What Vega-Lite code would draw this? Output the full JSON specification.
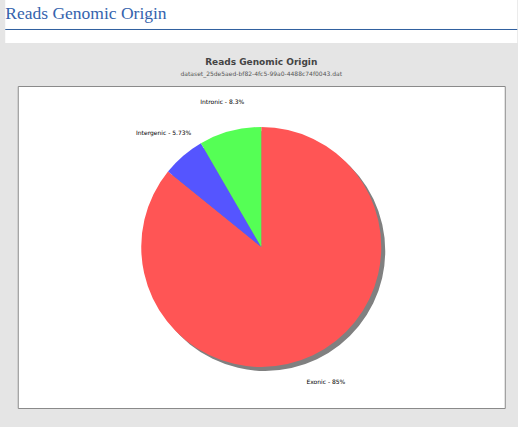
{
  "$schema": "https://vega.github.io/schema/vega-lite/v6.json",
  "background": "#e5e5e5",
  "padding": {"left": 4, "top": 0, "right": 0, "bottom": 18},
  "spacing": 14,
  "center": true,
  "config": {"view": {"stroke": null}},
  "datasets": {
    "origin": [
      {"origin": "Exonic", "pct": 85, "label": "Exonic - 85%"},
      {"origin": "Intergenic", "pct": 5.73, "label": "Intergenic - 5.73%"},
      {"origin": "Intronic", "pct": 8.3, "label": "Intronic - 8.3%"}
    ]
  },
  "vconcat": [
    {
      "width": 512,
      "height": 43,
      "view": {"fill": "white", "stroke": null},
      "data": {"name": "origin"},
      "transform": [{"aggregate": [{"op": "count", "as": "n"}]}],
      "layer": [
        {
          "mark": {"type": "rule", "color": "#2f5f9e", "strokeWidth": 1},
          "encoding": {
            "y": {"datum": 0.314, "type": "quantitative", "scale": {"domain": [0, 1]}, "axis": null}
          }
        },
        {
          "mark": {
            "type": "text",
            "text": "Reads Genomic Origin",
            "align": "left",
            "baseline": "alphabetic",
            "font": "Liberation Serif",
            "fontSize": 17.5,
            "color": "#3563ad"
          },
          "encoding": {
            "x": {"datum": 0, "type": "quantitative", "scale": {"domain": [0, 1]}, "axis": null},
            "y": {"datum": 0.565, "type": "quantitative", "scale": {"domain": [0, 1]}, "axis": null}
          }
        }
      ]
    },
    {
      "width": 487,
      "height": 322,
      "view": {"fill": "white", "stroke": "#8a8a8a", "strokeWidth": 1},
      "title": {
        "text": "Reads Genomic Origin",
        "subtitle": "dataset_25de5aed-bf82-4fc5-99a0-4488c74f0043.dat",
        "anchor": "middle",
        "font": "DejaVu Sans",
        "fontSize": 9,
        "fontWeight": "bold",
        "color": "#444444",
        "subtitleFont": "DejaVu Sans",
        "subtitleFontSize": 6,
        "subtitleColor": "#555555",
        "subtitlePadding": 4,
        "offset": 9
      },
      "data": {"name": "origin"},
      "encoding": {
        "theta": {"field": "pct", "type": "quantitative", "stack": true},
        "color": {
          "field": "origin",
          "type": "nominal",
          "scale": {"domain": ["Exonic", "Intergenic", "Intronic"], "range": ["#ff5555", "#5555ff", "#55ff55"]},
          "legend": null
        }
      },
      "layer": [
        {
          "mark": {"type": "arc", "radius": 120, "xOffset": 4, "yOffset": 4},
          "encoding": {"color": {"value": "#808080"}}
        },
        {
          "mark": {"type": "arc", "radius": 120}
        },
        {
          "mark": {"type": "text", "radius": 150, "font": "DejaVu Sans", "fontSize": 6},
          "encoding": {"text": {"field": "label"}, "color": {"value": "#000000"}}
        }
      ]
    }
  ]
}
